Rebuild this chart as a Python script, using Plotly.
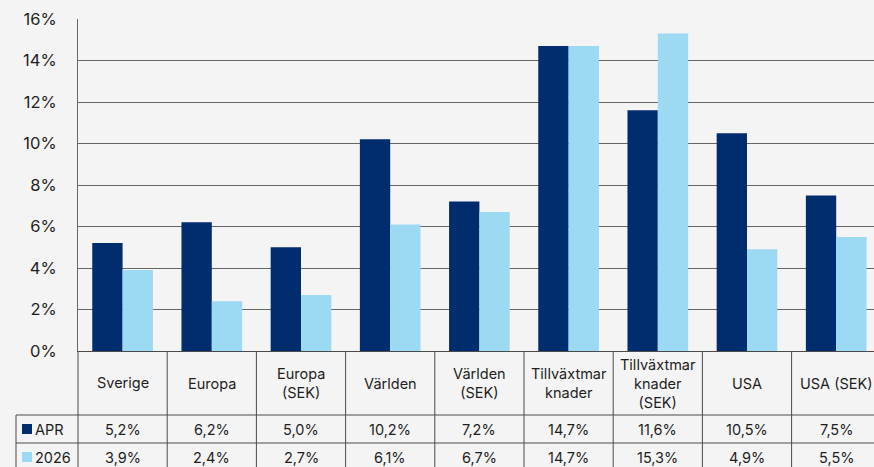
import plotly.graph_objects as go

categories = ["Sverige", "Europa", "Europa<br>(SEK)", "Världen", "Världen<br>(SEK)",
              "Tillväxtmar<br>knader", "Tillväxtmar<br>knader<br>(SEK)", "USA", "USA (SEK)"]
series_names = ["APR", "2026"]
apr = [5.2, 6.2, 5.0, 10.2, 7.2, 14.7, 11.6, 10.5, 7.5]
y2026 = [3.9, 2.4, 2.7, 6.1, 6.7, 14.7, 15.3, 4.9, 5.5]
y_ticks = [0, 2, 4, 6, 8, 10, 12, 14, 16]

NAVY = "#002d6e"
LIGHT = "#9bdaf2"
BG = "#f4f4f4"
TXT = "#1e1e1e"
LINE = "#4a4a4a"
FONT = "Inter, Roboto, Arial, sans-serif"

W, H = 874, 467
ML, MR, MT, MB = 78, 0, 19, 116
PW = W - ML - MR
PH = H - MT - MB
n = len(categories)
xr = [-0.5, -0.5 + PW / 89.2]


def fx(v):  # data x -> paper
    return (v - xr[0]) / (xr[1] - xr[0])


def pxx(px):  # pixel x -> paper
    return (px - ML) / PW


def pxy(py):  # pixel y -> paper
    return (H - MB - py) / PH


def fmt(v):
    return f"{v:.1f}%".replace(".", ",")


fig = go.Figure()
fig.add_trace(go.Bar(x=list(range(n)), y=apr, name=series_names[0], marker_color=NAVY,
                     marker_line_width=0, showlegend=False))
fig.add_trace(go.Bar(x=list(range(n)), y=y2026, name=series_names[1], marker_color=LIGHT,
                     marker_line_width=0, showlegend=False))

shapes = []
ann = []

top = H - MB          # 351
row1 = 415
row2 = 443
bottom = H + 10
leg_left = 16

for yy in [row1, row2]:
    shapes.append(dict(type="line", xref="paper", yref="paper", x0=pxx(leg_left), x1=1.0,
                       y0=pxy(yy), y1=pxy(yy), line=dict(color=LINE, width=1)))
for i in range(n + 1):
    xv = fx(i - 0.5)
    if xv > 1.0:
        continue
    shapes.append(dict(type="line", xref="paper", yref="paper", x0=xv, x1=xv,
                       y0=pxy(top), y1=pxy(bottom), line=dict(color=LINE, width=1)))
shapes.append(dict(type="line", xref="paper", yref="paper", x0=pxx(leg_left), x1=pxx(leg_left),
                   y0=pxy(row1), y1=pxy(bottom), line=dict(color=LINE, width=1)))

for i, c in enumerate(categories):
    ann.append(dict(x=fx(i), y=pxy((top + row1) / 2), xref="paper", yref="paper", text=c,
                    showarrow=False, xanchor="center", yanchor="middle",
                    font=dict(size=14.5, color=TXT, family=FONT)))
for r, (vals, yy0, yy1) in enumerate([(apr, row1, row2), (y2026, row2, row2 + 28)]):
    for i, v in enumerate(vals):
        ann.append(dict(x=fx(i), y=pxy((yy0 + yy1) / 2), xref="paper", yref="paper", text=fmt(v),
                        showarrow=False, xanchor="center", yanchor="middle",
                        font=dict(size=14.5, color=TXT, family=FONT)))
    col = NAVY if r == 0 else LIGHT
    cy = (yy0 + yy1) / 2
    shapes.append(dict(type="rect", xref="paper", yref="paper", x0=pxx(22), x1=pxx(32),
                       y0=pxy(cy + 5), y1=pxy(cy - 5), fillcolor=col, line=dict(width=0)))
    ann.append(dict(x=pxx(33), y=pxy(cy), xref="paper", yref="paper", text=series_names[r],
                    showarrow=False, xanchor="left", yanchor="middle",
                    font=dict(size=14.5, color=TXT, family=FONT)))

fig.update_layout(
    width=W, height=H,
    margin=dict(l=ML, r=MR, t=MT, b=MB, pad=0),
    paper_bgcolor=BG, plot_bgcolor=BG,
    barmode="group", bargap=0.32, bargroupgap=0,
    shapes=shapes, annotations=ann,
    font=dict(family=FONT, color=TXT),
)
fig.update_xaxes(range=xr, showticklabels=False, showgrid=False, zeroline=False,
                 showline=True, linecolor=LINE, linewidth=1, ticks="")
fig.update_yaxes(range=[0, 16], tickvals=y_ticks, ticktext=[f"{t}%" for t in y_ticks],
                 showgrid=True, gridcolor="#666666", gridwidth=1, zeroline=False,
                 showline=True, linecolor="#666666", linewidth=1, ticks="",
                 ticklabelstandoff=17, tickfont=dict(size=16.5, color=TXT, family=FONT))

fig.write_html("out.html",
               config={"displayModeBar": False, "staticPlot": True},
               post_script="document.body.style.margin='0';document.body.style.overflow='hidden';"
                           "document.body.style.background='#f4f4f4';")
